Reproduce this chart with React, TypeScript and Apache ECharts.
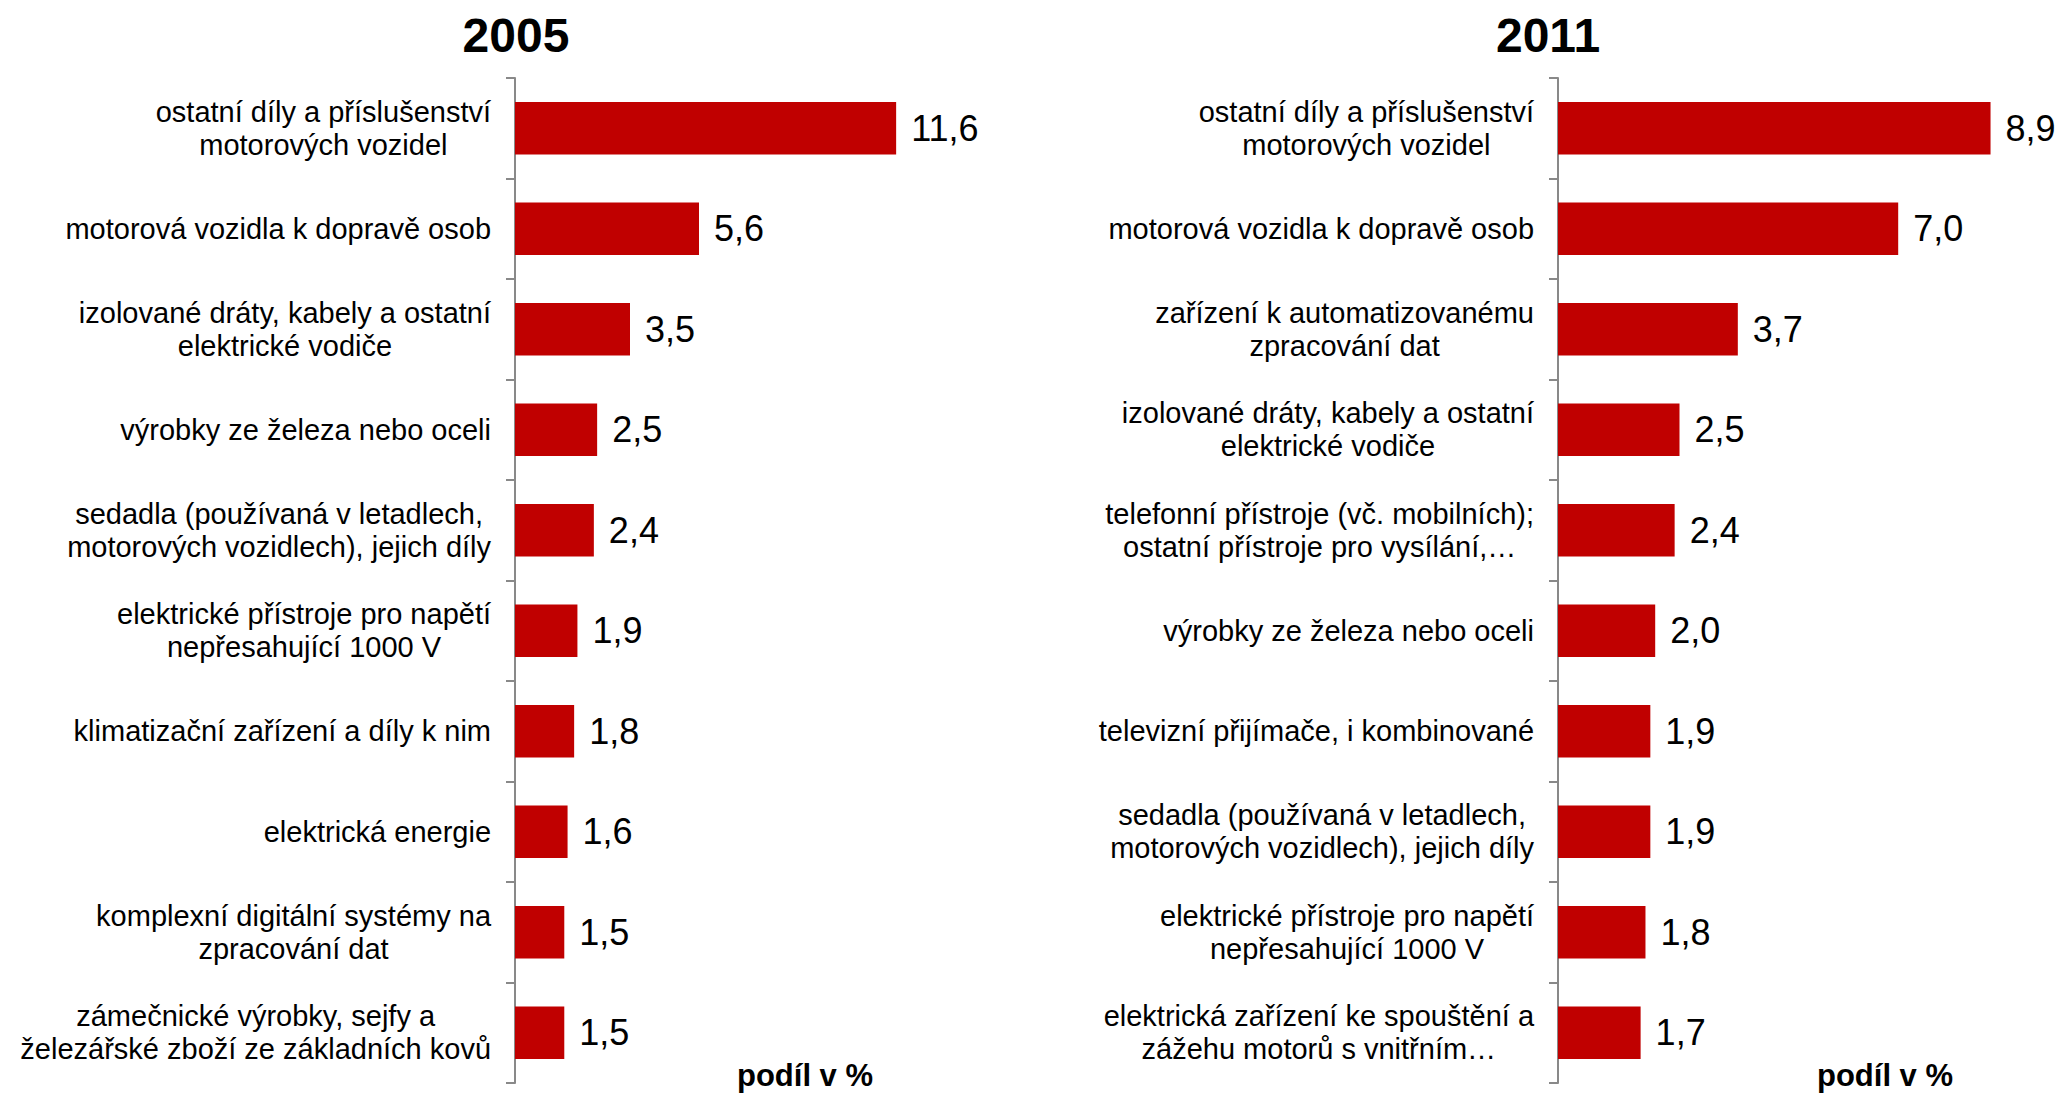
import React, { useEffect, useRef } from "react";
import * as echarts from "echarts";

const titles = ["2005", "2011"];
const unitLabel = "podíl v %";

const categories2005 = [
  "ostatní díly a příslušenství\nmotorových vozidel",
  "motorová vozidla k dopravě osob",
  "izolované dráty, kabely a ostatní\nelektrické vodiče",
  "výrobky ze železa nebo oceli",
  "sedadla (používaná v letadlech,\nmotorových vozidlech), jejich díly",
  "elektrické přístroje pro napětí\nnepřesahující 1000 V",
  "klimatizační zařízení a díly k nim",
  "elektrická energie",
  "komplexní digitální systémy na\nzpracování dat",
  "zámečnické výrobky, sejfy a\nželezářské zboží ze základních kovů",
];
const values2005 = [11.6, 5.6, 3.5, 2.5, 2.4, 1.9, 1.8, 1.6, 1.5, 1.5];

const categories2011 = [
  "ostatní díly a příslušenství\nmotorových vozidel",
  "motorová vozidla k dopravě osob",
  "zařízení k automatizovanému\nzpracování dat",
  "izolované dráty, kabely a ostatní\nelektrické vodiče",
  "telefonní přístroje (vč. mobilních);\nostatní přístroje pro vysílání,…",
  "výrobky ze železa nebo oceli",
  "televizní přijímače, i kombinované",
  "sedadla (používaná v letadlech,\nmotorových vozidlech), jejich díly",
  "elektrické přístroje pro napětí\nnepřesahující 1000 V",
  "elektrická zařízení ke spouštění a\nzážehu motorů s vnitřním…",
];
const values2011 = [8.9, 7.0, 3.7, 2.5, 2.4, 2.0, 1.9, 1.9, 1.8, 1.7];

const FONT = "'Liberation Sans', Arial, sans-serif";
const AXIS_GRAY = "#898989";
const BAR_RED = "#C00000";

const fmtNum = (v: number) => v.toFixed(1).replace(".", ",");

export default function App() {
  const ref = useRef<HTMLDivElement>(null);

  useEffect(() => {
    if (!ref.current) return;
    const chart = echarts.init(ref.current, undefined, { renderer: "svg" });

    const yAxisCommon = (cats: string[], gridIndex: number) => ({
      type: "category",
      gridIndex,
      data: cats,
      inverse: true,
      axisLine: { show: true, lineStyle: { color: AXIS_GRAY, width: 2 } },
      axisTick: { show: true, length: 9, lineStyle: { color: AXIS_GRAY, width: 2 } },
      axisLabel: {
        interval: 0,
        margin: 24,
        formatter: (v: string) =>
          v
            .split("\n")
            .map((l) => `{c|${l}}`)
            .join("\n"),
        rich: {
          c: {
            align: "center",
            fontSize: 29,
            lineHeight: 33,
            fontFamily: FONT,
            color: "#000",
          },
        },
      },
      splitLine: { show: false },
    });

    const xAxisCommon = (max: number, gridIndex: number) => ({
      type: "value",
      gridIndex,
      min: 0,
      max,
      show: false,
      splitLine: { show: false },
    });

    const seriesCommon = (vals: number[], idx: number) => ({
      type: "bar",
      xAxisIndex: idx,
      yAxisIndex: idx,
      data: vals,
      barCategoryGap: "48%",
      itemStyle: { color: BAR_RED },
      label: {
        show: true,
        position: "right",
        distance: 15,
        fontSize: 36,
        fontFamily: FONT,
        color: "#000",
        formatter: (p: any) => fmtNum(p.value),
      },
    });

    const textEl = (text: string, x: number, y: number, size: number) => ({
      type: "text",
      x,
      y,
      style: {
        text,
        fontSize: size,
        fontWeight: "bold",
        fontFamily: FONT,
        fill: "#000",
        align: "center",
        verticalAlign: "middle",
      },
    });

    chart.setOption({
      animation: false,
      backgroundColor: "#fff",
      grid: [
        { left: 515, top: 78, width: 460, height: 1005 },
        { left: 1558, top: 78, width: 486, height: 1005 },
      ],
      xAxis: [xAxisCommon(14, 0), xAxisCommon(10, 1)],
      yAxis: [yAxisCommon(categories2005, 0), yAxisCommon(categories2011, 1)],
      series: [seriesCommon(values2005, 0), seriesCommon(values2011, 1)],
      graphic: [
        textEl(titles[0], 516, 35, 48),
        textEl(titles[1], 1548, 35, 48),
        textEl(unitLabel, 805, 1075, 31),
        textEl(unitLabel, 1885, 1075, 31),
      ],
    });

    return () => chart.dispose();
  }, []);

  return (
    <div
      ref={ref}
      style={{ position: "fixed", left: 0, top: 0, width: 2060, height: 1093 }}
    />
  );
}
